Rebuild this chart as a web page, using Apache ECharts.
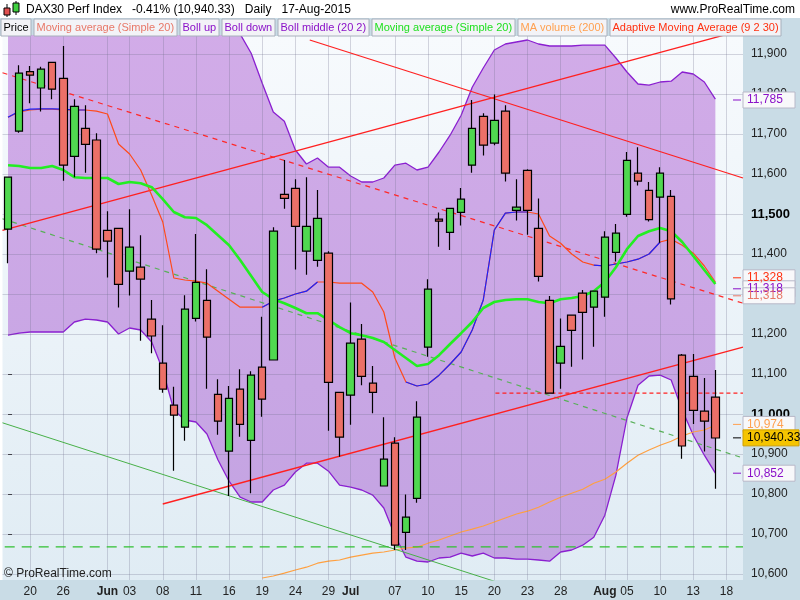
<!DOCTYPE html>
<html><head><meta charset="utf-8">
<script src="https://cdn.jsdelivr.net/npm/echarts@6/dist/echarts.min.js"></script>
<style>html,body{margin:0;padding:0;background:#fff}#c{width:800px;height:600px}</style>
</head><body><div id="c"></div>
<script>
const dates = ['05-18','05-19','05-20','05-21','05-22','05-26','05-27','05-28','05-29',
'06-01','06-02','06-03','06-04','06-05','06-08','06-09','06-10','06-11','06-12',
'06-15','06-16','06-17','06-18','06-19','06-22','06-23','06-24','06-25','06-26','06-29','06-30',
'07-01','07-02','07-03','07-06','07-07','07-08','07-09','07-10','07-13','07-14','07-15','07-16','07-17',
'07-20','07-21','07-22','07-23','07-24','07-27','07-28','07-29','07-30','07-31',
'08-03','08-04','08-05','08-06','08-07','08-10','08-11','08-12','08-13','08-14','08-17','08-18','08-19'];
const labelDates = ['05-20','05-26','06-01','06-03','06-08','06-11','06-16','06-19','06-24','06-29','07-01','07-07','07-10','07-15','07-20','07-23','07-28','08-03','08-05','08-10','08-13','08-18'];
const labelTexts = ['20','26','Jun','03','08','11','16','19','24','29','Jul','07','10','15','20','23','28','Aug','05','10','13','18'];
const open  = [11462,11707,11856,11815,11879,11839,11644,11714,11685,11459,11464,11357,11367,11237,11127,11022,10967,11239,11284,11049,10907,11062,10934,11117,11135,11549,11564,11407,11384,11402,11054,11047,11187,11077,10820,10927,10704,10789,11167,11487,11454,11504,11622,11744,11677,11757,11509,11609,11464,11284,11127,11247,11302,11267,11292,11404,11499,11602,11559,11542,11544,11147,11094,11007,11042];
const close = [11592,11852,11847,11862,11812,11622,11769,11674,11412,11432,11324,11417,11337,11195,11062,10997,11262,11329,11192,10982,11039,10974,11097,11037,11457,11539,11469,11469,11489,11079,10942,11177,11094,11054,10887,10672,10742,10992,11312,11482,11514,11537,11714,11672,11734,11602,11517,11509,11344,11052,11169,11209,11254,11307,11442,11452,11634,11582,11486,11602,11288,10920,11009,10982,10940];
const high  = [11592,11872,11870,11868,11879,11920,11787,11772,11702,11507,11464,11512,11447,11285,11222,11068,11297,11450,11362,11087,11070,11112,11107,11243,11467,11635,11587,11592,11560,11407,11054,11279,11225,11120,10992,10942,10799,11032,11337,11504,11514,11565,11785,11752,11799,11772,11587,11612,11539,11295,11239,11247,11310,11307,11457,11475,11655,11667,11580,11617,11560,11150,11150,11090,11110];
const low   = [11377,11703,11777,11756,11787,11583,11592,11603,11402,11341,11266,11296,11183,11152,11053,10858,10933,11231,11063,10948,10795,10943,10802,10993,11135,11513,11361,11348,11368,10958,10893,10973,11072,11002,10820,10660,10660,10778,11143,11418,11410,11471,11603,11646,11672,11581,11484,11448,11331,11052,11063,11118,11136,11168,11243,11381,11493,11571,11481,11428,11274,10888,10975,10906,10813];
const bollUp = [12150,12140,12130,12120,12110,12100,12090,12080,12070,12060,12050,12040,12030,12020,12010,12005,12000,11995,11990,11985,11975,11950,11902,11827,11755,11732,11660,11625,11640,11617,11617,11595,11580,11580,11590,11622,11627,11610,11617,11655,11697,11747,11817,11865,11910,11925,11930,11935,11925,11920,11920,11920,11922,11922,11922,11890,11855,11825,11822,11830,11832,11855,11850,11830,11787];
const bollDown = [11197,11202,11205,11205,11205,11205,11230,11237,11235,11230,11200,11215,11210,11180,11110,11010,10985,10980,10950,10885,10832,10792,10780,10780,10810,10822,10855,10877,10877,10857,10822,10817,10810,10797,10765,10697,10642,10632,10630,10640,10642,10652,10645,10652,10640,10640,10637,10637,10635,10632,10655,10660,10672,10692,10747,10847,10990,11072,11095,11097,11085,11010,10947,10897,10852];
const bollMid = [11742,11757,11762,11763,11763,11762,11760,11760,null,null,null,null,null,null,null,null,null,null,null,null,null,null,null,11267,11282,11290,11300,11307,11330,null,null,null,null,null,null,null,11080,11070,11075,11097,11125,11155,11210,11285,11460,11502,11505,11505,null,null,null,null,null,11372,11370,11375,11380,11387,11400,11430];
const maRed = [11742,11755,11760,11762,11762,11760,11760,11760,11757,11750,11675,11650,11610,11547,11480,11340,11335,11332,11327,11307,11287,11267,11267,11267,11282,11290,11300,11307,11330,11330,11327,11327,11327,11305,11255,11140,11080,11070,11075,11097,11125,11155,11210,11285,11460,11502,11505,11505,11500,11445,11427,11400,11380,11372,11370,11375,11380,11387,11400,11430,11437,11422,11402,11370,11330];
const maGreen = [11622,11620,11615,11615,11620,11610,11592,11590,11590,11590,11575,11580,11577,11567,11537,11505,11492,11490,11472,11447,11422,11385,11345,11305,11287,11277,11265,11252,11252,11235,11217,11202,11197,11190,11180,11160,11140,11120,11125,11147,11175,11202,11230,11265,11280,11285,11287,11287,11280,11277,11287,11290,11295,11307,11330,11367,11412,11445,11457,11465,11457,11430,11395,11360,11325];
const maVol = [null,null,null,null,null,null,null,null,null,null,null,null,null,null,null,null,null,null,null,null,null,null,null,10590,10595,10602,10610,10617,10627,10632,10635,10642,10647,10652,10655,10660,10665,10667,10677,10685,10695,10705,10712,10720,10730,10740,10750,10757,10767,10780,10792,10802,10812,10827,10837,10855,10877,10897,10910,10922,10932,10945,10955,10960,10972];
const trendRedUp = [[-0.5,11459],[66.5,11960]];
const trendRedDown = [[27.3,11935],[66.5,11590]];
const trendRedDash = [[-0.5,11853],[66.5,11277]];
const trendGreenDash = [[-0.5,11488],[66.5,10890]];
const trendRedLow = [[14.0,10775],[66.5,11167]];
const trendGreen = [[-0.5,10978],[45,10573]];
const levelGreen = [[-0.3,10668],[66.5,10668]];
const levelRed = [[44.1,11052],[66.5,11052]];
const yTicks = [10600,10700,10800,10900,11000,11100,11200,11300,11400,11500,11600,11700,11800,11900];
const tagValues = [11785,11328,11318,11318,10974,10940.33,10852];
const tagTexts = ['11,785','11,328','11,318','11,318','10,974','10,940.33','10,852'];
const legendItems = ['Price','Moving average (Simple 20)','Boll up','Boll down','Boll middle (20 2)','Moving average (Simple 20)','MA volume (200)','Adaptive Moving Average (9 2 30)'];
const legendColors = ['#000','#e87868','#8a10c8','#8a10c8','#8a10c8','#20e020','#ffa050','#ff3010'];

const FONT = 'Liberation Sans, Arial, sans-serif';
const chart = echarts.init(document.getElementById('c'), null, {renderer:'canvas'});
const candles = open.map((o,i)=>[o, close[i], low[i], high[i]]);
const band = bollUp.map((u,i)=>u - bollDown[i]);
const gridX = dates.map((d,i)=>labelDates.includes(d) ? i : null).filter(v=>v!==null);
const fmt = v => v.toLocaleString('en-US');

function tline(data, color, type, w){
  return {type:'line', xAxisIndex:1, yAxisIndex:0, data, symbol:'none', silent:true,
    lineStyle:{color, type, width:w}, z:6, animation:false};
}

const option = {
  animation:false,
  grid:{left:2.5, right:57, top:36, bottom:20, show:true, borderWidth:0,
    backgroundColor:new echarts.graphic.LinearGradient(0,0,0,1,[{offset:0,color:'#f7fafd'},{offset:1,color:'#e0ecf4'}])},
  xAxis:[
    {type:'category', data:dates, boundaryGap:true,
      axisLine:{show:false}, axisTick:{show:false}, splitLine:{show:false},
      axisLabel:{interval:(i,v)=>labelDates.includes(v), margin:6, fontFamily:FONT, fontSize:12, color:'#222',
        formatter:(v)=>{const t=labelTexts[labelDates.indexOf(v)]; return /[A-Za-z]/.test(t)?'{b|'+t+'}':t;},
        rich:{b:{fontWeight:'bold', fontFamily:FONT, fontSize:12, color:'#222'}}}},
    {type:'value', min:-0.5, max:66.5, show:false}
  ],
  yAxis:[{type:'value', position:'right', min:10585, max:11945, scale:true,
    axisLine:{show:false}, splitLine:{show:false},
    axisTick:{show:true, customValues:yTicks, length:4, inside:false, lineStyle:{color:'#333'}},
    axisLabel:{customValues:yTicks, margin:8, fontFamily:FONT, fontSize:12, color:'#222',
      formatter:v=>(v===11500||v===11000)?'{b|'+fmt(v)+'}':fmt(v),
      rich:{b:{fontWeight:'bold', fontFamily:FONT, fontSize:13, color:'#000'}}}}],
  series:[
    {type:'line', data:bollDown, stack:'bb', symbol:'none', lineStyle:{opacity:0}, silent:true, z:1},
    {type:'line', data:band, stack:'bb', symbol:'none', lineStyle:{opacity:0}, silent:true, z:1,
      areaStyle:{opacity:1, color:new echarts.graphic.LinearGradient(0,0,0,1,[{offset:0,color:'#d4ade9'},{offset:1,color:'#c3a3e2'}])}},
    {type:'line', xAxisIndex:1, data:[], symbol:'none', silent:true, z:2,
      markLine:{silent:true, symbol:'none', label:{show:false},
        lineStyle:{color:'rgba(110,110,140,0.28)', type:'solid', width:1},
        data:yTicks.map(v=>({yAxis:v})).concat(gridX.map(v=>({xAxis:v})))}},
    {type:'line', data:bollUp, symbol:'none', lineStyle:{color:'#8a1fd0', width:1.3}, z:3, silent:true},
    {type:'line', data:bollDown, symbol:'none', lineStyle:{color:'#8a1fd0', width:1.3}, z:3, silent:true},
    {type:'line', data:maVol, symbol:'none', lineStyle:{color:'#ffa040', width:1.2}, z:3, silent:true},
    tline(trendGreen,'#48b048','solid',1),
    tline(levelGreen,'#30c030',[10,7],1.3),
    tline(trendGreenDash,'#58b058',[5,5],1.2),
    tline(trendRedDash,'#ff2828',[5,5],1.2),
    tline(levelRed,'#ff2020',[4,3],1.2),
    tline(trendRedUp,'#ff2020','solid',1.3),
    tline(trendRedDown,'#ff2020','solid',1.3),
    tline(trendRedLow,'#ff2020','solid',1.3),
    {type:'line', data:maRed, symbol:'none', lineStyle:{color:'#ff4a1a', width:1.2}, z:7, silent:true},
    {type:'line', data:bollMid, symbol:'none', lineStyle:{color:'#1a22ff', width:1.2}, z:7, silent:true, connectNulls:false},
    {type:'line', data:maGreen, symbol:'none', lineStyle:{color:'#22ee22', width:2.6}, z:8, silent:true},
    {type:'candlestick', data:candles, barWidth:8, z:9, silent:true,
      itemStyle:{color:'#50d850', color0:'#ec7068', borderColor:'#000', borderColor0:'#000', borderWidth:1.2}}
  ]
};
chart.setOption(option);

const g = [];
g.push({type:'rect', shape:{x:743,y:18,width:57,height:562}, style:{fill:'#c9dce6'}, z:-10, silent:true});
g.push({type:'rect', shape:{x:0,y:580,width:800,height:20}, style:{fill:'#c9dce6'}, z:-10, silent:true});
g.push({type:'rect', shape:{x:0,y:0,width:800,height:18}, style:{fill:'#ffffff'}, z:-10, silent:true});
g.push({type:'rect', shape:{x:0,y:18,width:743,height:18}, style:{fill:'#c9dce6'}, z:-10, silent:true});
g.push({type:'line', shape:{x1:7,y1:4,x2:7,y2:17}, style:{stroke:'#000'}, z:20});
g.push({type:'rect', shape:{x:4,y:8,width:6,height:7}, style:{fill:'#e05050', stroke:'#000'}, z:20});
g.push({type:'line', shape:{x1:16,y1:1,x2:16,y2:15}, style:{stroke:'#000'}, z:20});
g.push({type:'rect', shape:{x:13,y:3,width:6,height:9}, style:{fill:'#40d040', stroke:'#000'}, z:20});
g.push({type:'text', x:26, y:10, style:{text:'DAX30 Perf Index   -0.41% (10,940.33)   Daily   17-Aug-2015', font:'12px '+FONT, fill:'#000', verticalAlign:'middle'}, z:20});
g.push({type:'text', x:795, y:10, style:{text:'www.ProRealTime.com', font:'12px '+FONT, fill:'#000', align:'right', verticalAlign:'middle'}, z:20});
const LFONT = '11px '+FONT;
const ctx = document.createElement('canvas').getContext('2d');
ctx.font = LFONT;
let lx = 1;
legendItems.forEach((t,i)=>{
  const w = Math.round(ctx.measureText(t).width) + 5;
  g.push({type:'rect', shape:{x:lx,y:19,width:w,height:17}, style:{fill:'#f3f3f7', stroke:'#a8b0bc', lineWidth:1}, z:15});
  g.push({type:'text', x:lx+2.5, y:28, style:{text:t, font:LFONT, fill:legendColors[i], verticalAlign:'middle'}, z:16});
  lx += w + 3;
});
g.push({type:'text', x:4, y:574, style:{text:'© ProRealTime.com', font:'12px '+FONT, fill:'#222', verticalAlign:'middle'}, z:20});
const tagColors = ['#8a10c8','#ff3010','#8a10c8','#e87868','#ffa050','#000','#8a10c8'];
const tagShift = [0,-5,2,9,0,0,0];
tagValues.forEach((v,i)=>{
  const y = chart.convertToPixel({yAxisIndex:0}, v) + tagShift[i];
  const gold = i===5;
  const w = gold ? 56 : 52;
  g.push({type:'rect', shape:{x:743,y:y-8,width:w,height:16}, style:{fill:gold?'#f5c400':'#f8f8fa', stroke:gold?'#d0a000':'#b8b8c8', lineWidth:1}, z:30});
  g.push({type:'line', shape:{x1:733,y1:y,x2:741,y2:y}, style:{stroke:tagColors[i], lineWidth:1}, z:30});
  g.push({type:'text', x:747, y:y, style:{text:tagTexts[i], font:'12px '+FONT, fill:tagColors[i], verticalAlign:'middle'}, z:31});
});
chart.setOption({graphic:{elements:g}});
</script></body></html>
